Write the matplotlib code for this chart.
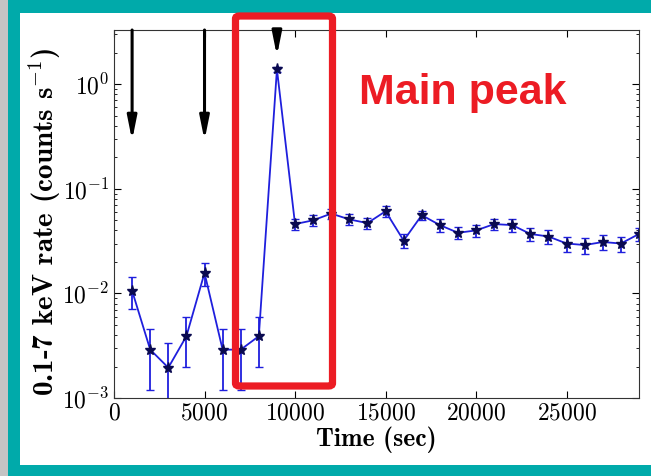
import matplotlib
matplotlib.use("Agg")
import matplotlib.pyplot as plt
from matplotlib.patches import Rectangle, FancyBboxPatch
import numpy as np

plt.rcParams['mathtext.fontset'] = 'cm'
plt.rcParams['font.family'] = 'serif'
plt.rcParams['font.serif'] = ['cmr10']
plt.rcParams['axes.formatter.use_mathtext'] = True

# light curve, 1 ks bins
time = [1000, 2000, 3000, 4000, 5000, 6000, 7000, 8000, 9000, 10000,
        11000, 12000, 13000, 14000, 15000, 16000, 17000, 18000, 19000, 20000,
        21000, 22000, 23000, 24000, 25000, 26000, 27000, 28000, 29000]
rate = [0.0106, 0.0029, 0.00195, 0.0039, 0.0157, 0.0029, 0.0029, 0.0039, 1.39, 0.046,
        0.050, 0.058, 0.051, 0.047, 0.061, 0.032, 0.056, 0.045, 0.038, 0.040,
        0.046, 0.045, 0.037, 0.035, 0.030, 0.029, 0.031, 0.030, 0.037]
err_lo = [0.0035, 0.0017, 0.0011, 0.0019, 0.0040, 0.0017, 0.0017, 0.0019, 0.08, 0.006,
          0.006, 0.006, 0.006, 0.006, 0.007, 0.005, 0.006, 0.006, 0.005, 0.005,
          0.006, 0.006, 0.005, 0.005, 0.005, 0.005, 0.005, 0.005, 0.005]
err_hi = [0.0038, 0.0017, 0.0014, 0.0020, 0.0038, 0.0017, 0.0017, 0.0020, 0.08, 0.006,
          0.006, 0.006, 0.006, 0.006, 0.007, 0.005, 0.006, 0.006, 0.005, 0.005,
          0.006, 0.006, 0.005, 0.005, 0.005, 0.005, 0.005, 0.005, 0.005]

# times of the upper-limit arrows and where their heads stop
arrow_time = [1000, 5000, 9000]
arrow_tip = [0.29, 0.29, 1.86]

fig = plt.figure(figsize=(6.51, 4.76), dpi=100)
fig.patch.set_facecolor('white')

W, H = 651.0, 476.0
teal = '#00aaaa'
# slide background: grey strip and teal frame
fig.patches.append(Rectangle((0, 0), 8 / W, 1, transform=fig.transFigure,
                             facecolor='#c4c4c4', edgecolor='none', zorder=-5))
fig.patches.append(Rectangle((8 / W, 0), 12 / W, 1, transform=fig.transFigure,
                             facecolor=teal, edgecolor='none', zorder=-4))
fig.patches.append(Rectangle((8 / W, 1 - 13 / H), 1, 13 / H, transform=fig.transFigure,
                             facecolor=teal, edgecolor='none', zorder=-4))
fig.patches.append(Rectangle((8 / W, 0), 1, 11 / H, transform=fig.transFigure,
                             facecolor=teal, edgecolor='none', zorder=-4))

ax = fig.add_axes([114 / W, 1 - 398 / H, 525 / W, 368 / H])
ax.errorbar(time, rate, yerr=[err_lo, err_hi], color='#1f1fdd', lw=1.3,
            elinewidth=1.3, capsize=3, marker='*', markersize=8,
            markerfacecolor='#0a0a50', markeredgecolor='#0a0a50')

for t, tip in zip(arrow_time, arrow_tip):
    ax.annotate('', xy=(t, tip), xytext=(t, 1.0),
                textcoords=('data', 'axes fraction'),
                arrowprops=dict(arrowstyle='-|>,head_width=0.2,head_length=1.0',
                                color='black', lw=2.2, shrinkA=0, shrinkB=0,
                                mutation_scale=14))

ax.set_yscale('log')
ax.set_xlim(0, 29000)
ax.set_ylim(1e-3, 3.3)
ax.set_xticks([0, 5000, 10000, 15000, 20000, 25000])
ax.tick_params(which='both', direction='in', top=True, right=True, labelsize=17)
ax.tick_params(which='major', length=5)
ax.tick_params(which='minor', length=2.5)
for s in ax.spines.values():
    s.set_color('#333333')

ax.set_xlabel('Time (sec)', fontsize=18.5, fontname='cmb10', labelpad=1)
ax.set_ylabel(r'0.1-7 keV rate (counts s$^{\mathbf{-1}}$)', fontsize=21,
              fontname='cmb10')
ax.yaxis.set_label_coords(-0.097, 0.48)

# highlight box and label
red = '#ec1c24'
box = FancyBboxPatch((235.5 / W, 1 - 386 / H), 97 / W, 370 / H,
                     boxstyle='round,pad=0,rounding_size=0.006',
                     transform=fig.transFigure, facecolor='none',
                     edgecolor=red, linewidth=5.2, zorder=10)
fig.patches.append(box)
fig.text(359 / W, 1 - 104 / H, 'Main peak', color=red, fontsize=31,
         fontweight='bold', family='Liberation Sans', ha='left', va='baseline')

fig.savefig('out.png', dpi=100)
